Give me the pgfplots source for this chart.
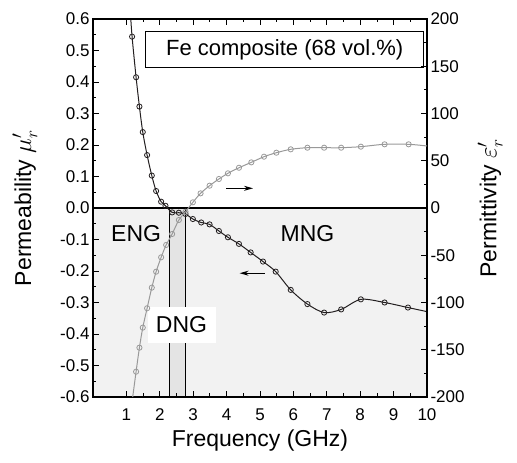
\documentclass[border=0pt]{standalone}
\usepackage{pgfplots}
\pgfplotsset{compat=1.18}
\usepackage{pgfplotstable}
\usepackage{fontspec}
\setmainfont{Liberation Sans}
\usetikzlibrary{arrows.meta}
\definecolor{bggray}{HTML}{F2F2F2}
\definecolor{dnggray}{HTML}{E4E4E4}
\definecolor{curvegray}{HTML}{999999}
\definecolor{curveblack}{HTML}{231F20}

\pgfplotstableread{
x y
1.17 0.544
1.29 0.415
1.39 0.322
1.49 0.241
1.62 0.168
1.76 0.103
1.89 0.054
2.04 0.020
2.17 0.007
2.37 -0.014
2.57 -0.015
2.77 -0.019
2.99 -0.035
3.24 -0.046
3.49 -0.052
3.77 -0.073
4.04 -0.093
4.37 -0.114
4.72 -0.141
5.09 -0.170
5.47 -0.202
5.92 -0.260
6.42 -0.305
6.92 -0.332
7.43 -0.322
8.02 -0.290
8.73 -0.300
9.43 -0.316
}\mudata

\pgfplotstableread{
x y
1.12 0.62
1.17 0.544
1.29 0.415
1.39 0.322
1.49 0.241
1.62 0.168
1.76 0.103
1.89 0.054
2.04 0.020
2.17 0.007
2.37 -0.014
2.57 -0.015
2.77 -0.019
2.99 -0.035
3.24 -0.046
3.49 -0.052
3.77 -0.073
4.04 -0.093
4.37 -0.114
4.72 -0.141
5.09 -0.170
5.47 -0.202
5.92 -0.260
6.42 -0.305
6.92 -0.332
7.43 -0.322
8.02 -0.290
8.73 -0.300
9.43 -0.316
10.0 -0.329
}\muline

\pgfplotstableread{
x y
1.29 -173.2
1.39 -147.8
1.49 -126.6
1.62 -106.1
1.76 -84.3
1.89 -67.4
2.04 -52.2
2.19 -39.1
2.37 -27.5
2.57 -12.7
2.77 -4.0
2.99 6.0
3.22 15.5
3.49 23.6
3.77 30.7
4.04 36.7
4.37 42.6
4.74 48.3
5.12 54.3
5.49 58.5
5.92 62.1
6.42 63.8
6.92 63.8
7.43 63.8
8.02 64.9
8.73 67.4
9.45 67.4
}\epsdata

\pgfplotstableread{
x y
1.17 -205
1.29 -173.2
1.39 -147.8
1.49 -126.6
1.62 -106.1
1.76 -84.3
1.89 -67.4
2.04 -52.2
2.19 -39.1
2.37 -27.5
2.57 -12.7
2.77 -4.0
2.99 6.0
3.22 15.5
3.49 23.6
3.77 30.7
4.04 36.7
4.37 42.6
4.74 48.3
5.12 54.3
5.49 58.5
5.92 62.1
6.42 63.8
6.92 63.8
7.43 63.8
8.02 64.9
8.73 67.4
9.45 67.4
10.0 65.6
}\epsline

\begin{document}
\begin{tikzpicture}
\useasboundingbox (-93pt,-66pt) rectangle (424pt,397pt);
\pgfplotsset{
  common/.style={
    at={(0,0)}, anchor=south west, scale only axis,
    width=334pt, height=378pt,
    xmin=0, xmax=10,
    tick align=inside,
    major tick length=6pt, minor tick length=3.5pt,
    every tick/.style={black, line width=0.8pt},
    axis line style={line width=1.2pt},
    tick label style={font=\fontsize{17}{19}\selectfont},
    label style={font=\fontsize{23}{26}\selectfont},
    /pgf/number format/assume math mode=true,
  }
}
\begin{axis}[common,
  ymin=-0.6, ymax=0.6,
  xtick={1,2,3,4,5,6,7,8,9,10}, minor x tick num=1,
  ytick={-0.6,-0.5,-0.4,-0.3,-0.2,-0.1,0,0.1,0.2,0.3,0.4,0.5,0.6},
  minor y tick num=1,
  xtick pos=both, ytick pos=left,
  xticklabel style={yshift=-8pt},
  yticklabel style={/pgf/number format/.cd, fixed, fixed zerofill, precision=1},
  xlabel={Frequency (GHz)},
  ylabel={Permeability $\mu'_r$},
  xlabel style={at={(axis description cs:0.5,-0.114)}, anchor=center},
  ylabel style={at={(axis description cs:-0.204,0.5)}, anchor=center},
  axis on top,
]
\fill[bggray] (axis cs:0,0) rectangle (axis cs:10,-0.6);
\fill[dnggray] (axis cs:2.3,0) rectangle (axis cs:2.78,-0.6);
\draw[black, line width=0.8pt] (axis cs:2.3,0) -- (axis cs:2.3,-0.6);
\draw[black, line width=0.8pt] (axis cs:2.78,0) -- (axis cs:2.78,-0.6);
\draw[black, line width=1.6pt] (axis cs:0,0) -- (axis cs:10,0);
\node[fill=white, minimum width=68pt, minimum height=36pt, inner sep=0pt,
      font=\fontsize{23}{26}\selectfont] at (axis cs:2.65,-0.371) {DNG};
\node[font=\fontsize{23}{26}\selectfont] at (axis cs:1.29,-0.08) {ENG};
\node[font=\fontsize{23}{26}\selectfont] at (axis cs:6.42,-0.08) {MNG};
\node[draw=black, line width=0.8pt, fill=white, minimum width=278pt, minimum height=36pt,
      inner sep=0pt, font=\fontsize{22}{25}\selectfont] at (axis cs:5.74,0.502) {Fe composite (68 vol.\%)};
\draw[-{Stealth[length=9pt,width=5pt]}, line width=1pt] (axis cs:3.99,0.0625) -- (axis cs:4.79,0.0625);
\draw[-{Stealth[length=9pt,width=5pt]}, line width=1pt] (axis cs:5.14,-0.207) -- (axis cs:4.39,-0.207);
\addplot[curveblack, line width=1pt, smooth, tension=0.5, no marks] table {\muline};
\addplot[curveblack, line width=0.8pt, only marks, mark=o, mark size=2.6pt,
         mark options={fill=white}] table {\mudata};
\end{axis}
\begin{axis}[common,
  ymin=-200, ymax=200,
  axis x line=none,
  axis y line*=right,
  ytick={-200,-150,-100,-50,0,50,100,150,200},
  minor y tick num=1,
  ylabel={Permittivity $\varepsilon'_r$},
  ylabel style={at={(axis description cs:1.189,0.5)}, anchor=center},
]
\addplot[curvegray, line width=1pt, smooth, tension=0.5, no marks] table {\epsline};
\addplot[curvegray, line width=0.8pt, only marks, mark=o, mark size=2.6pt,
         mark options={fill=white}] table {\epsdata};
\end{axis}
\end{tikzpicture}
\end{document}
